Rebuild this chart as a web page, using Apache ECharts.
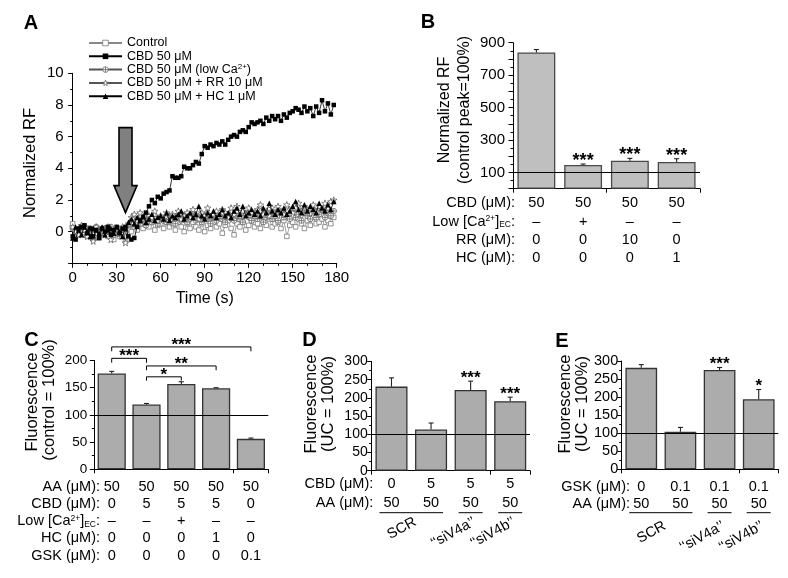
<!DOCTYPE html>
<html><head><meta charset="utf-8">
<script src="https://cdn.jsdelivr.net/npm/echarts@6/dist/echarts.min.js"></script>
<style>html,body{margin:0;padding:0;background:#fff}#c{width:788px;height:578px}</style>
</head><body><div id="c"></div>
<script>
// ---------- Panel A data ----------
const timeSec = [0,2,4,6,8,10,12,14,16,18,20,22,24,26,28,30,32,34,36,38,40,42,44,46,48,50,52,54,56,58,60,62,64,66,68,70,72,74,76,78,80,82,84,86,88,90,92,94,96,98,100,102,104,106,108,110,112,114,116,118,120,122,124,126,128,130,132,134,136,138,140,142,144,146,148,150,152,154,156,158,160,162,164,166,168,170,172,174,176,178];
const cbdRF = [-0.3,-0.5,0.2,0.3,0.4,-0.1,0.2,-0.3,0.1,-0.4,
  0.2,0.0,0.3,-0.2,0.1,0.3,-0.1,0.2,0.3,-0.3,
  -0.5,-0.4,0.3,0.7,0.9,1.2,1.6,2.0,1.8,2.2,
  2.1,2.4,2.5,2.6,3.5,3.4,3.4,3.5,4.1,4.0,
  4.0,4.2,4.4,4.3,4.9,5.4,5.3,5.5,5.4,5.6,
  5.5,5.7,5.5,5.8,6.0,6.1,6.0,6.3,6.4,6.3,
  6.6,6.9,6.8,6.9,7.0,6.8,7.2,7.0,7.3,7.1,
  7.3,7.0,7.4,7.2,7.5,7.6,7.8,7.7,7.5,7.9,
  7.6,7.8,7.3,7.9,7.5,8.3,7.6,8.1,7.4,8.0];
const ctrlRF = [0.5,0.1,-0.2,0.3,0.0,-0.3,0.2,-0.1,0.1,-0.4,
  0.0,0.2,-0.3,0.1,-0.5,0.0,0.2,-0.2,-0.6,0.1,
  0.0,0.3,0.1,0.5,0.2,0.4,0.3,0.6,0.1,0.4,
  0.5,0.2,0.6,0.3,0.5,0.1,0.6,0.3,0.0,0.5,
  0.2,0.6,0.3,0.1,0.5,0.0,0.4,0.2,0.6,0.3,
  0.5,-0.1,0.4,0.7,0.2,-0.2,0.5,0.3,0.6,0.1,
  0.4,0.7,0.3,0.5,0.2,0.6,0.4,0.8,0.3,0.5,
  0.6,0.2,0.7,-0.3,0.4,0.6,0.3,0.8,0.5,0.2,
  0.7,0.4,0.9,0.5,0.6,0.8,0.3,0.7,0.5,0.9];
const lowCaRF = [0.2,-0.3,0.1,0.3,-0.2,0.2,0.0,-0.5,0.3,0.1,
  -0.1,0.2,0.0,0.3,-0.2,0.1,-0.3,0.2,0.0,0.4,
  0.6,0.3,0.8,0.5,0.7,0.4,0.9,0.6,0.8,0.5,
  0.9,0.7,0.6,1.0,0.8,0.5,0.9,0.7,1.0,0.6,
  0.8,1.1,0.7,0.9,0.6,1.0,0.8,0.5,0.9,0.7,
  1.0,0.8,0.6,1.1,0.9,0.7,1.0,0.8,0.6,1.1,
  0.9,0.7,1.2,0.8,1.0,0.6,0.9,1.1,0.8,1.0,
  0.7,1.2,0.9,1.0,0.8,1.3,0.9,1.1,0.7,1.2,
  1.0,0.8,1.3,0.9,1.1,1.4,0.9,1.2,1.0,1.3];
const rrRF = [0.3,0.0,-0.2,0.4,0.1,-0.3,0.2,-0.6,0.3,0.0,
  0.2,-0.2,0.3,-0.5,0.1,0.2,-0.1,0.3,-0.7,0.5,
  0.9,1.1,0.7,1.2,0.8,0.6,1.0,0.9,1.3,0.7,
  1.0,0.8,1.2,0.6,1.1,0.9,1.3,0.8,1.0,1.2,
  0.9,1.4,1.1,0.8,1.2,1.0,1.5,0.9,1.1,1.3,
  1.0,1.4,1.2,0.9,1.5,1.1,1.6,1.0,1.3,1.1,
  1.5,1.2,1.0,1.4,1.7,1.1,1.3,1.0,1.5,1.2,
  1.6,1.3,1.1,1.7,1.4,1.2,1.5,1.8,1.3,1.6,
  1.2,1.5,1.7,1.3,1.6,1.4,1.8,1.5,1.9,2.0];
const hcRF = [-0.4,0.3,0.1,-0.2,0.3,0.0,-0.3,0.2,0.1,-0.1,
  0.3,-0.2,0.1,0.2,-0.1,0.3,0.0,-0.3,0.2,0.6,
  0.8,0.5,0.9,0.7,1.0,0.6,0.8,1.1,0.7,0.9,
  1.0,0.8,1.2,0.7,1.0,0.9,1.1,1.3,0.8,1.0,
  1.2,0.9,1.1,1.6,1.0,0.8,1.2,1.0,1.3,0.9,
  1.1,1.4,1.0,1.2,0.9,1.3,1.5,1.1,1.6,1.0,
  1.2,1.4,1.1,1.3,1.0,1.5,1.2,1.8,1.3,1.1,
  1.4,1.2,1.5,1.1,1.3,1.6,1.9,1.4,1.2,1.7,
  1.3,1.6,1.4,1.2,1.8,1.5,1.3,1.7,1.4,1.9];
const aTimeTicks = [0,30,60,90,120,150,180];
const aYTicks = [0,2,4,6,8,10];

// ---------- Panel B data ----------
const bGroups = ['CBD', 'CBD low Ca', 'CBD + RR', 'CBD + HC'];
const bMeans = [840, 146, 173, 165];
const bErrs = [18, 6, 14, 20];
const bStars = ['', '***', '***', '***'];
const bRowLabels = ['CBD (μM):', 'Low [Ca{sup|2+}]{sub|EC}:', 'RR (μM):', 'HC (μM):'];
const bTable = [['50','50','50','50'], ['–','+','–','–'], ['0','0','10','0'], ['0','0','0','1']];

// ---------- Panel C data ----------
const cGroups = ['AA', 'AA+CBD', 'AA+CBD lowCa', 'AA+CBD+HC', 'AA+GSK'];
const cMeans = [176, 119, 157, 149, 56];
const cErrs = [4, 2, 4, 1, 1.5];
const cBrackets = [[0, 225, 4, 217], [0, 204, 1, 196], [1, 190, 3, 182], [1, 170, 2, 163]];
const cBracketStars = ['***', '***', '**', '*'];
const cRowLabels = ['AA (μM):', 'CBD (μM):', 'Low [Ca{sup|2+}]{sub|EC}:', 'HC (μM):', 'GSK (μM):'];
const cTable = [['50','50','50','50','50'], ['0','5','5','5','0'], ['–','–','+','–','–'], ['0','0','0','1','0'], ['0','0','0','0','0.1']];

// ---------- Panel D data ----------
const dGroups = ['SCR', 'SCR+CBD', 'siV4a+CBD', 'siV4b+CBD'];
const dMeans = [231, 113, 222, 191];
const dErrs = [24, 18, 24, 11];
const dStars = ['', '', '***', '***'];
const dRowLabels = ['CBD (μM):', 'AA (μM):'];
const dTable = [['0','5','5','5'], ['50','50','50','50']];

// ---------- Panel E data ----------
const eGroups = ['SCR', 'SCR+GSK', 'siV4a+GSK', 'siV4b+GSK'];
const eMeans = [281, 104, 275, 194];
const eErrs = [9, 12, 7, 27];
const eStars = ['', '', '***', '*'];
const eRowLabels = ['GSK (μM):', 'AA (μM):'];
const eTable = [['0','0.1','0.1','0.1'], ['50','50','50','50']];

const siGroups = [{cols:[0,1], label:'SCR'}, {cols:[2], label:'‘‘siV4a’’'}, {cols:[3], label:'‘‘siV4b’’'}];

// ---------- rendering ----------
const FF = "'Liberation Sans', Arial, Helvetica, sans-serif";
const chart = echarts.init(document.getElementById('c'));

const SYM_SQ = 'path://M0,0L10,0L10,10L0,10Z';
const SYM_STAR = 'path://M0,-10L2.35,-3.24L9.51,-3.09L3.8,1.24L5.88,8.09L0,4L-5.88,8.09L-3.8,1.24L-9.51,-3.09L-2.35,-3.24Z';
const SYM_CPLUS = 'path://M10,0A10,10,0,1,1,-10,0A10,10,0,1,1,10,0ZM-10,0L10,0M0,-10L0,10';

const styleCtrl = {color:'#fff', borderColor:'#777', borderWidth:0.8};
const styleCbd = {color:'#000', borderColor:'#000', borderWidth:0};
const styleLowCa = {color:'#fff', borderColor:'#555', borderWidth:0.7};
const styleRR = {color:'#fff', borderColor:'#555', borderWidth:0.7};
const styleHC = {color:'#000', borderColor:'#000', borderWidth:0};

function zipT(vals) { return timeSec.map((t, i) => [t, vals[i]]); }
function lineSeries(name, vals, symbol, size, itemStyle, lineColor, z) {
  return {type:'line', name, xAxisIndex:0, yAxisIndex:0, data:zipT(vals), symbol, symbolSize:size,
    showSymbol:true, showAllSymbol:true, itemStyle, lineStyle:{color:lineColor, width:0.8}, z,
    animation:false, emphasis:{disabled:true}};
}
function valAxis(idx, min, max, interval, fontSize, margin, formatter, minorSplit) {
  return {type:'value', gridIndex:idx, min, max, interval,
    axisLine:{show:true, onZero:false, lineStyle:{color:'#000', width:1}},
    axisTick:{show:true, length:4.5, lineStyle:{color:'#000', width:1}},
    minorTick:{show:true, splitNumber:minorSplit || 2, length:2.5, lineStyle:{color:'#000', width:1}},
    splitLine:{show:false}, minorSplitLine:{show:false},
    axisLabel:{fontSize, fontFamily:FF, color:'#000', margin, formatter}};
}
function catAxis(idx, cats) {
  return {type:'category', gridIndex:idx, data:cats,
    axisLine:{show:true, lineStyle:{color:'#000', width:1}},
    axisTick:{show:true, length:4, lineStyle:{color:'#000', width:1}},
    axisLabel:{show:false}, splitLine:{show:false}};
}
function barSeries(idx, means, color, border) {
  return {type:'bar', xAxisIndex:idx, yAxisIndex:idx, data:means, barCategoryGap:'19%',
    itemStyle:{color, borderColor:border, borderWidth:1.3}, animation:false, emphasis:{disabled:true},
    markLine:{silent:true, symbol:'none', animation:false, label:{show:false},
      lineStyle:{color:'#000', width:1, type:'solid'}, data:[{yAxis:100}]}};
}
function errSeries(idx, means, errs, stars, starSize) {
  return {type:'custom', xAxisIndex:idx, yAxisIndex:idx, z:5, animation:false,
    data: means.map((m, i) => [i, m, errs[i]]), encode:{x:0, y:1},
    renderItem: function (params, api) {
      const i = api.value(0), m = api.value(1), e = api.value(2);
      const p0 = api.coord([i, m]), p1 = api.coord([i, m + e]);
      const ch = [
        {type:'line', shape:{x1:p0[0], y1:p0[1], x2:p1[0], y2:p1[1]}, style:{stroke:'#222', lineWidth:1.1}},
        {type:'line', shape:{x1:p1[0]-2.5, y1:p1[1], x2:p1[0]+2.5, y2:p1[1]}, style:{stroke:'#222', lineWidth:1.1}}
      ];
      const s = stars[params.dataIndex];
      if (s) ch.push({type:'text', x:p1[0], y:p1[1]-3, style:{text:s, align:'center', verticalAlign:'middle',
        fontSize:starSize, fontWeight:'bold', fontFamily:FF, fill:'#000'}});
      return {type:'group', children:ch};
    }};
}

const option = {
  backgroundColor:'#fff',
  animation:false,
  textStyle:{fontFamily:FF},
  grid:[
    {left:72.7, top:73.3, width:264, height:190},
    {left:513, top:42.7, width:187, height:146},
    {left:94.3, top:360.5, width:174, height:108.8},
    {left:371.7, top:361.5, width:158.3, height:109.2},
    {left:621.7, top:361, width:156.6, height:108.3}
  ],
  legend:{left:83, top:31.5, orient:'vertical', itemWidth:33, itemHeight:7, itemGap:0.3, selectedMode:false,
    data:[
      {name:'Control', itemStyle:styleCtrl},
      {name:'CBD 50 μM', itemStyle:styleCbd},
      {name:'CBD 50 μM (low Ca2+)', itemStyle:styleLowCa},
      {name:'CBD 50 μM + RR 10 μM', itemStyle:styleRR},
      {name:'CBD 50 μM + HC 1 μM', itemStyle:styleHC}
    ],
    formatter: n => n.replace('Ca2+', 'Ca{sup|2+}'),
    textStyle:{fontSize:12.5, lineHeight:13, fontFamily:FF, color:'#000',
      rich:{sup:{fontSize:8, verticalAlign:'top', lineHeight:13, fontFamily:FF, color:'#000'}}}},
  xAxis:[
    Object.assign(valAxis(0, 0, 180, 30, 15, 7, v => aTimeTicks.includes(v) ? v : '', 3),
      {name:'Time (s)', nameLocation:'middle', nameGap:27, nameTextStyle:{fontSize:16, fontFamily:FF, color:'#000'}}),
    catAxis(1, bGroups), catAxis(2, cGroups), catAxis(3, dGroups), catAxis(4, eGroups)
  ],
  yAxis:[
    valAxis(0, -2, 10, 2, 15, 9, v => aYTicks.includes(v) ? v : ''),
    valAxis(1, 0, 900, 100, 15, 8, v => (Math.round(v / 100) % 2 === 1 ? v : '')),
    valAxis(2, 0, 200, 50, 13.5, 7),
    valAxis(3, 0, 300, 50, 14, 4),
    valAxis(4, 0, 300, 50, 14.5, 3.5)
  ],
  series:[
    lineSeries('Control', ctrlRF, SYM_SQ, 4.5, styleCtrl, '#888', 2),
    lineSeries('CBD 50 μM', cbdRF, 'rect', 4.5, styleCbd, '#000', 6),
    lineSeries('CBD 50 μM (low Ca2+)', lowCaRF, SYM_CPLUS, 5.5, styleLowCa, '#555', 3),
    lineSeries('CBD 50 μM + RR 10 μM', rrRF, SYM_STAR, 6.5, styleRR, '#555', 4),
    lineSeries('CBD 50 μM + HC 1 μM', hcRF, 'triangle', 5.5, styleHC, '#000', 5),
    barSeries(1, bMeans, '#bfbfbf', '#4a4a4a'), errSeries(1, bMeans, bErrs, bStars, 18),
    barSeries(2, cMeans, '#acacac', '#333'), errSeries(2, cMeans, cErrs, ['', '', '', '', ''], 17),
    {type:'custom', xAxisIndex:2, yAxisIndex:2, z:6, animation:false, data:cBrackets, encode:{x:0, y:1},
      renderItem: function (params, api) {
        const i1 = api.value(0), y = api.value(1), i2 = api.value(2), yd = api.value(3);
        const a = api.coord([i1, y]), b = api.coord([i2, y]), d = api.coord([i1, yd]);
        return {type:'group', children:[
          {type:'polyline', shape:{points:[[a[0], d[1]], [a[0], a[1]], [b[0], b[1]], [b[0], d[1]]]},
            style:{stroke:'#000', lineWidth:1, fill:null}},
          {type:'text', x:(a[0] + b[0]) / 2, y:a[1] - 2, style:{text:cBracketStars[params.dataIndex], align:'center',
            verticalAlign:'middle', fontSize:17, fontWeight:'bold', fontFamily:FF, fill:'#000'}}
        ]};
      }},
    barSeries(3, dMeans, '#acacac', '#333'), errSeries(3, dMeans, dErrs, dStars, 17),
    barSeries(4, eMeans, '#acacac', '#333'), errSeries(4, eMeans, eErrs, eStars, 17)
  ]
};
chart.setOption(option);

// ---------- annotations (text, tables, arrow) ----------
const g = [];
const RICH = {sup:{fontSize:8.5, verticalAlign:'top', lineHeight:15, fontFamily:FF, fill:'#000'},
              sub:{fontSize:8.5, verticalAlign:'bottom', lineHeight:15, fontFamily:FF, fill:'#000'}};
function txt(x, y, text, o) {
  o = o || {};
  g.push({type:'text', x, y, rotation:o.rot || 0, z:100, silent:true,
    style:{text, align:o.align || 'center', verticalAlign:o.va || 'middle', fontSize:o.size || 14.5,
      fontWeight:o.weight || 'normal', fontFamily:FF, fill:'#000', lineHeight:15, rich:RICH}});
}
function colX(grid, i) { return chart.convertToPixel({gridIndex:grid}, [i, 0])[0]; }

// panel letters
[['A', 31, 23.5], ['B', 428, 22], ['C', 31.5, 340], ['D', 309.5, 340], ['E', 562, 341.5]].forEach(p =>
  txt(p[1], p[2], p[0], {size:20, weight:'bold'}));

// y-axis titles (rotated)
const R90 = Math.PI / 2;
txt(30, 163, 'Normalized RF', {rot:R90, size:16.5});
txt(445, 110, 'Normalized RF', {rot:R90, size:16});
txt(465, 110, '(control peak=100%)', {rot:R90, size:16});
txt(32.3, 402, 'Fluorescence', {rot:R90, size:16.5});
txt(49, 400, '(control = 100%)', {rot:R90, size:16.5});
txt(311, 404, 'Fluorescence', {rot:R90, size:16.5});
txt(328, 404, '(UC = 100%)', {rot:R90, size:16.5});
txt(565, 404, 'Fluorescence', {rot:R90, size:16.5});
txt(582, 404, '(UC = 100%)', {rot:R90, size:16.5});

// tables
function table(grid, labels, rows, bottom, first, step, headRight) {
  labels.forEach((lab, r) => {
    const y = bottom + first + r * step;
    txt(headRight, y, lab, {align:'right'});
    rows[r].forEach((v, i) => txt(colX(grid, i), y, v));
  });
}
table(1, bRowLabels, bTable, 188.7, 14.6, 18.3, 515);
table(2, cRowLabels, cTable, 469.3, 17.4, 17.25, 100);
table(3, dRowLabels, dTable, 470.7, 13.3, 19.3, 373.3);
table(4, eRowLabels, eTable, 469.3, 18, 16.7, 630);

// siRNA group underlines and rotated labels
function groups(grid, lineY, labY) {
  siGroups.forEach(gr => {
    const x1 = colX(grid, gr.cols[0]), x2 = colX(grid, gr.cols[gr.cols.length - 1]);
    g.push({type:'line', z:100, silent:true, shape:{x1:x1 - 12, y1:lineY, x2:x2 + 12, y2:lineY},
      style:{stroke:'#000', lineWidth:1}});
    txt((x1 + x2) / 2 + 4, labY, gr.label, {align:'right', rot:0.5, size:14.5});
  });
}
groups(3, 512.7, 521);
groups(4, 512.7, 525);

// arrow marking CBD addition
const arrowTip = chart.convertToPixel({gridIndex:0}, [36, 1.2]);
const arrowTop = chart.convertToPixel({gridIndex:0}, [36, 6.57]);
const tx = arrowTip[0], ty = arrowTip[1];
g.push({type:'polygon', z:100, silent:true, shape:{points:[[tx - 6.5, arrowTop[1]], [tx + 6.5, arrowTop[1]], [tx + 6.5, ty - 27],
  [tx + 11.5, ty - 27], [tx, ty], [tx - 11.5, ty - 27], [tx - 6.5, ty - 27]]},
  style:{fill:'#808080', stroke:'#000', lineWidth:1.6}});

chart.setOption({graphic:g});
</script>
</body></html>
